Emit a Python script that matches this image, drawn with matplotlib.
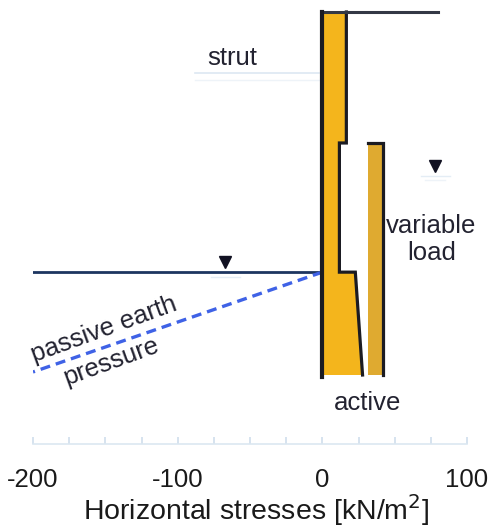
import matplotlib
matplotlib.use("Agg")
import matplotlib.pyplot as plt
import numpy as np

# ---- data (stress in kN/m2, depth in m) ----
wall_top = 0.0
wall_bottom = 12.0
strut_depth = 2.0
excavation_depth = 8.6          # water level / excavation bottom
step_depth = 4.33
ground_right = 80.0             # extent of ground surface line on the right

# active earth pressure profile (stress, depth)
active_stress = [16.6, 16.6, 11.8, 11.8, 22.8, 27.8]
active_depth = [0.0, step_depth, step_depth, excavation_depth, excavation_depth, wall_bottom]

# variable load pressure band
varload_left = 31.8
varload_right = 42.2
varload_top = step_depth

# passive earth pressure line
passive_stress = [0.0, -200.0]
passive_depth = [excavation_depth, 11.9]

# water level markers
water_marker_left = (-67.0, excavation_depth)
water_marker_right = (78.0, 5.42)

xticks_major = [-200, -100, 0, 100]
xtick_labels = ["-200", "-100", "0", "100"]
xticks_minor = list(range(-200, 101, 25))

FONT = "Liberation Sans"
plt.rcParams['font.family'] = [FONT, 'DejaVu Sans']

W, H = 491, 529
fig = plt.figure(figsize=(W / 100, H / 100), dpi=100)
ax_left, ax_right = 33 / W, 467 / W
ax_bottom = (H - 444) / H
ax = fig.add_axes([ax_left, ax_bottom, ax_right - ax_left, 1 - ax_bottom])
px_per_m = 30.25
ax.set_xlim(-200, 100)
ax.set_ylim((444 - 12) / px_per_m, -12 / px_per_m)

for s in ['top', 'left', 'right']:
    ax.spines[s].set_visible(False)
ax.spines['bottom'].set_color('#dbe7f1')
ax.spines['bottom'].set_linewidth(1.2)
ax.set_yticks([])
ax.set_xticks(xticks_major)
ax.set_xticklabels(xtick_labels, fontsize=18.5, color='#1a1a1a')
ax.set_xticks(xticks_minor, minor=True)
ax.tick_params(axis='x', which='both', direction='in', length=5, color='#cfdeec', width=1.2)
ax.tick_params(axis='x', which='major', pad=17)
ax.set_xlabel("Horizontal stresses [kN/m$^2$]", fontsize=20.5, color='#1a1a1a', va='center')
ax.xaxis.set_label_coords(0.514, -(510.5 - 444) / 444)

yellow = '#F4B51C'
band = '#DFAA30'
dark = '#1b1b22'

# active pressure fill
xs = [0.0] + active_stress + [0.0]
ys = [wall_top] + active_depth + [wall_bottom]
ax.fill(xs, ys, color=yellow, zorder=2, lw=0)
ax.plot(active_stress, active_depth, color=dark, lw=2.3, zorder=3, solid_joinstyle='miter')

# variable load band
ax.fill([varload_left, varload_right, varload_right, varload_left],
        [varload_top, varload_top, wall_bottom, wall_bottom], color=band, zorder=2, lw=0)
ax.plot([varload_left, varload_right, varload_right],
        [varload_top, varload_top, wall_bottom], color=dark, lw=2.3, zorder=3,
        solid_joinstyle='miter')

# wall
ax.plot([0, 0], [wall_top, wall_bottom + 0.05], color=dark, lw=3.0, zorder=4)

# ground surface on right
ax.plot([0, ground_right], [wall_top, wall_top], color='#333845', lw=2.2, zorder=3)

# excavation / water line on left
ax.plot([-200, 0], [excavation_depth, excavation_depth], color='#1d3560', lw=2.0, zorder=3)

# passive earth pressure
ax.plot(passive_stress, passive_depth, color='#3f62e6', lw=2.4, ls=(0, (3, 1.8)), zorder=3)

# strut (faint)
ax.plot([-88, -2], [strut_depth, strut_depth], color='#dde8f2', lw=1.2, zorder=1)
ax.plot([-88, -2], [strut_depth + 0.25, strut_depth + 0.25], color='#eef3f8', lw=1.0, zorder=1)

# water markers
ax.plot([water_marker_left[0]], [water_marker_left[1] - 0.33], marker='v', ms=9,
        color='#111122', zorder=5, ls='none')
ax.plot([water_marker_left[0] - 10, water_marker_left[0] + 10],
        [water_marker_left[1] + 0.17, water_marker_left[1] + 0.17], color='#e4edf5', lw=1, zorder=1)
ax.plot([water_marker_right[0]], [water_marker_right[1] - 0.33], marker='v', ms=9,
        color='#111122', zorder=5, ls='none')
ax.plot([water_marker_right[0] - 10, water_marker_right[0] + 10],
        [water_marker_right[1], water_marker_right[1]], color='#e4edf5', lw=1, zorder=1)
ax.plot([water_marker_right[0] - 7, water_marker_right[0] + 7],
        [water_marker_right[1] + 0.12, water_marker_right[1] + 0.12], color='#eef3f8', lw=1, zorder=1)

# labels
tc = '#222230'
ax.text(-62.3, 1.52, "strut", fontsize=18.5, color=tc, ha='center', va='center')
ax.text(75.4, 7.52, "variable\nload", fontsize=18.5, color=tc, ha='center', va='center',
        linespacing=1.12)
ax.text(31, 12.93, "active", fontsize=18.5, color=tc, ha='center', va='center')
ax.text(-151, 10.5, "passive earth", fontsize=18.5, color=tc, ha='center', va='center',
        rotation=20, rotation_mode='anchor')
ax.text(-146, 11.55, "pressure", fontsize=18.5, color=tc, ha='center', va='center',
        rotation=20, rotation_mode='anchor')

fig.savefig("out.png", dpi=100)
